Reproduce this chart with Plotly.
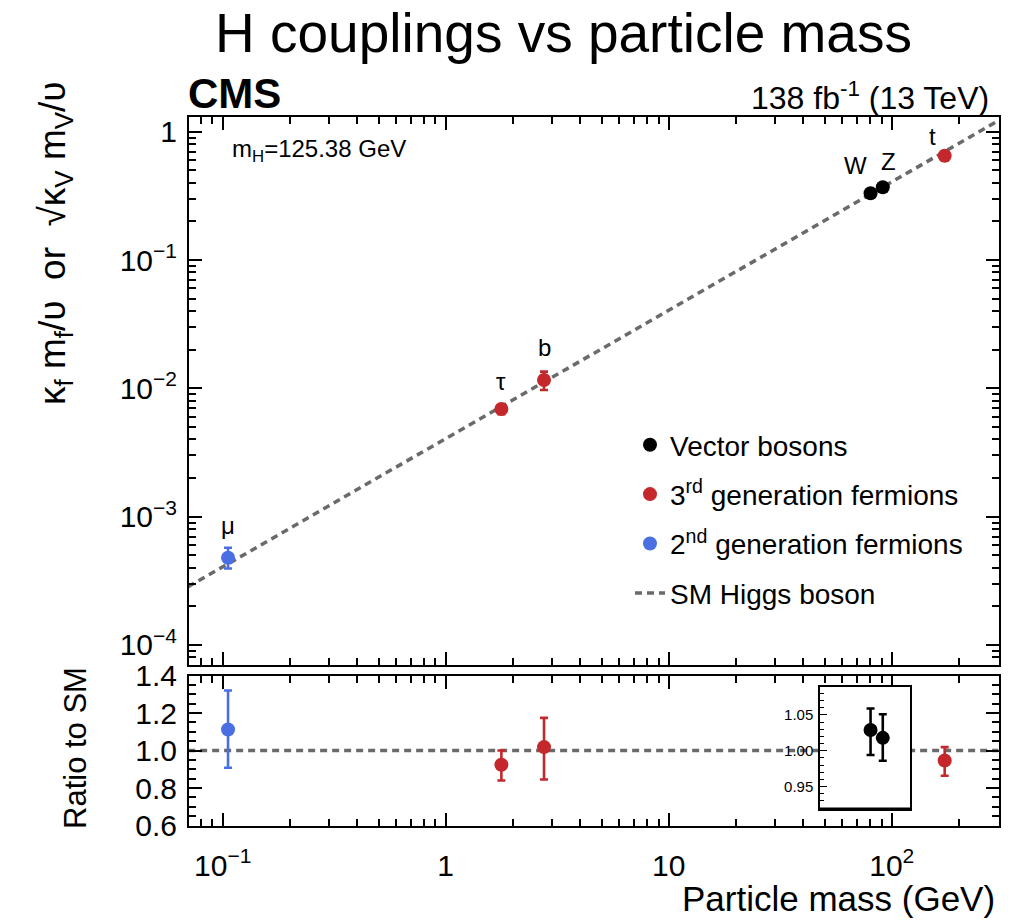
import numpy as np
import plotly.graph_objects as go

# ---------------- data ----------------
vec_names = ["W", "Z"]
vec_mass = [80.38, 91.19]
vec_coupling = [0.331, 0.369]
vec_coupling_err_up = [0.010, 0.012]
vec_coupling_err_dn = [0.011, 0.012]
vec_ratio = [1.029, 1.018]
vec_ratio_err_up = [0.030, 0.033]
vec_ratio_err_dn = [0.035, 0.032]

gen3_names = ["τ", "b", "t"]
gen3_mass = [1.777, 2.76, 172.76]
gen3_coupling = [6.90e-3, 1.16e-2, 0.650]
gen3_coupling_err_up = [0.55e-3, 0.19e-2, 0.046]
gen3_coupling_err_dn = [0.60e-3, 0.19e-2, 0.053]
gen3_ratio = [0.924, 1.018, 0.947]
gen3_ratio_err_up = [0.076, 0.156, 0.071]
gen3_ratio_err_dn = [0.084, 0.173, 0.082]

gen2_names = ["μ"]
gen2_mass = [0.1057]
gen2_coupling = [4.78e-4]
gen2_coupling_err_up = [0.95e-4]
gen2_coupling_err_dn = [0.84e-4]
gen2_ratio = [1.112]
gen2_ratio_err_up = [0.208]
gen2_ratio_err_dn = [0.204]

sm_mass = [0.07, 300.0]
sm_coupling = [2.84e-4, 1.218]
sm_ratio = [1.0, 1.0]

x_tickvals = [0.1, 1, 10, 100]
x_ticktext = ["10<sup>−1</sup>", "1", "10", "10<sup>2</sup>"]
y_tickvals = [1e-4, 1e-3, 1e-2, 1e-1, 1]
y_ticktext = ["10<sup>−4</sup>", "10<sup>−3</sup>", "10<sup>−2</sup>", "10<sup>−1</sup>", "1"]
r_tickvals = [0.6, 0.8, 1.0, 1.2, 1.4]
r_ticktext = ["0.6", "0.8", "1.0", "1.2", "1.4"]
inset_tickvals = [0.95, 1.00, 1.05]
inset_ticktext = ["0.95", "1.00", "1.05"]

# ---------------- styling ----------------
W, H = 1015, 922
FONT = "Liberation Sans, Arial, Helvetica, sans-serif"
BLACK = "#000000"
RED = "#c4282c"
BLUE = "#4a6fe3"
GREY = "#6a6a6a"
DASH = "7px,5px"


def px_x(p):
    return p / W


def px_y(p):
    return 1 - p / H


minor_log = [m * 10.0 ** e for e in range(-5, 3) for m in range(2, 10)]

fig = go.Figure()


def err(up, dn, color, w=4):
    return dict(type="data", symmetric=False, array=up, arrayminus=dn,
                color=color, thickness=2.6, width=w)


# SM line (upper)
fig.add_trace(go.Scatter(x=sm_mass, y=sm_coupling, mode="lines", xaxis="x2", yaxis="y2",
                         line=dict(color=GREY, width=3.5, dash=DASH),
                         name="SM Higgs boson", legendgroup="d", legendrank=4))
# Upper panel points
fig.add_trace(go.Scatter(x=vec_mass, y=vec_coupling, mode="markers", xaxis="x2", yaxis="y2",
                         marker=dict(color=BLACK, size=14),
                         error_y=err(vec_coupling_err_up, vec_coupling_err_dn, BLACK),
                         name="Vector bosons", legendgroup="a", legendrank=1))
fig.add_trace(go.Scatter(x=gen3_mass, y=gen3_coupling, mode="markers", xaxis="x2", yaxis="y2",
                         marker=dict(color=RED, size=14),
                         error_y=err(gen3_coupling_err_up, gen3_coupling_err_dn, RED),
                         name="3<sup>rd</sup> generation fermions", legendgroup="b", legendrank=2))
fig.add_trace(go.Scatter(x=gen2_mass, y=gen2_coupling, mode="markers", xaxis="x2", yaxis="y2",
                         marker=dict(color=BLUE, size=14),
                         error_y=err(gen2_coupling_err_up, gen2_coupling_err_dn, BLUE),
                         name="2<sup>nd</sup> generation fermions", legendgroup="c", legendrank=3))

# Lower (ratio) panel
fig.add_trace(go.Scatter(x=sm_mass, y=sm_ratio, mode="lines", xaxis="x", yaxis="y",
                         line=dict(color=GREY, width=3.5, dash=DASH), showlegend=False))
fig.add_trace(go.Scatter(x=gen3_mass, y=gen3_ratio, mode="markers", xaxis="x", yaxis="y",
                         marker=dict(color=RED, size=14),
                         error_y=err(gen3_ratio_err_up, gen3_ratio_err_dn, RED),
                         showlegend=False))
fig.add_trace(go.Scatter(x=gen2_mass, y=gen2_ratio, mode="markers", xaxis="x", yaxis="y",
                         marker=dict(color=BLUE, size=14),
                         error_y=err(gen2_ratio_err_up, gen2_ratio_err_dn, BLUE),
                         showlegend=False))
# Inset (vector bosons ratio)
fig.add_trace(go.Scatter(x=vec_mass, y=vec_ratio, mode="markers", xaxis="x3", yaxis="y3",
                         marker=dict(color=BLACK, size=14),
                         error_y=err(vec_ratio_err_up, vec_ratio_err_dn, BLACK),
                         showlegend=False))

frame = dict(showline=True, linecolor=BLACK, linewidth=2, mirror="allticks",
             ticks="inside", ticklen=13, tickwidth=1.5, tickcolor=BLACK,
             showgrid=False, zeroline=False, automargin=False)
minor_log_style = dict(ticks="inside", ticklen=7, tickwidth=1.5, tickcolor=BLACK,
                       tickvals=minor_log, showgrid=False)

x_range = [-1.151, 2.481]

fig.update_layout(
    width=W, height=H,
    margin=dict(l=0, r=0, t=0, b=0, pad=0, autoexpand=False),
    paper_bgcolor="white", plot_bgcolor="white",
    font=dict(family=FONT, color=BLACK),
    xaxis=dict(**frame, type="log", range=x_range,
               domain=[px_x(189), px_x(999)], anchor="y",
               tickmode="array", tickvals=x_tickvals, ticktext=x_ticktext,
               tickfont=dict(size=30), ticklabelstandoff=12,
               minor=minor_log_style),
    yaxis=dict(**frame, range=[0.6, 1.4],
               domain=[px_y(825.5), px_y(675.5)], anchor="x",
               tickmode="array", tickvals=r_tickvals, ticktext=r_ticktext,
               tickfont=dict(size=30), ticklabelstandoff=4,
               minor=dict(ticks="inside", ticklen=7, tickwidth=1.5, tickcolor=BLACK,
                          dtick=0.05, tick0=0.6, showgrid=False)),
    xaxis2=dict(**frame, type="log", range=x_range,
                domain=[px_x(189), px_x(999)], anchor="y2",
                tickmode="array", tickvals=x_tickvals, showticklabels=False,
                minor=minor_log_style),
    yaxis2=dict(**frame, type="log", range=[-4.156, 0.1146],
                domain=[px_y(665), px_y(117)], anchor="x2",
                tickmode="array", tickvals=y_tickvals, ticktext=y_ticktext,
                tickfont=dict(size=30), ticklabelstandoff=4,
                minor=minor_log_style),
    xaxis3=dict(type="log", range=[1.6785, 2.082],
                domain=[px_x(820), px_x(910)], anchor="y3",
                showline=True, linecolor=BLACK, linewidth=1.5, mirror=True,
                ticks="", showticklabels=False, showgrid=False, zeroline=False,
                automargin=False),
    yaxis3=dict(range=[0.9186, 1.0894],
                domain=[px_y(809), px_y(686.7)], anchor="x3",
                showline=True, linecolor=BLACK, linewidth=1.5, mirror=True,
                ticks="inside", ticklen=7, tickwidth=1.2, tickcolor=BLACK,
                tickmode="array", tickvals=inset_tickvals, ticktext=inset_ticktext,
                tickfont=dict(size=15), ticklabelstandoff=2,
                showgrid=False, zeroline=False, automargin=False,
                minor=dict(ticks="inside", ticklen=4, tickwidth=1, tickcolor=BLACK,
                           dtick=0.01, tick0=0.9, showgrid=False)),
    legend=dict(x=px_x(630), y=px_y(420), xanchor="left", yanchor="top",
                font=dict(size=28, family=FONT), bgcolor="rgba(0,0,0,0)",
                traceorder="grouped", tracegroupgap=10, itemwidth=30),
    showlegend=True,
)

# thicker bottom edge of inset
fig.add_shape(type="line", xref="x3 domain", yref="y3 domain", x0=0, x1=1, y0=0, y1=0,
              line=dict(color=BLACK, width=3))

ann = []
ann.append(dict(text="H couplings vs particle mass", x=px_x(563), y=px_y(33),
                xref="paper", yref="paper", xanchor="center", yanchor="middle",
                showarrow=False, font=dict(size=55)))
ann.append(dict(text="<b>CMS</b>", x=px_x(186), y=px_y(94), xref="paper", yref="paper",
                xanchor="left", yanchor="middle", showarrow=False, font=dict(size=42)))
ann.append(dict(text="138 fb<sup>-1</sup> (13 TeV)", x=px_x(991), y=px_y(96),
                xref="paper", yref="paper", xanchor="right", yanchor="middle",
                showarrow=False, font=dict(size=32)))
ann.append(dict(text="m<sub>H</sub>=125.38 GeV", x=px_x(230), y=px_y(150),
                xref="paper", yref="paper", xanchor="left", yanchor="middle",
                showarrow=False, font=dict(size=24)))
ann.append(dict(text="κ<sub>f</sub> m<sub>f</sub>/υ  or  √κ<sub>V</sub> m<sub>V</sub>/υ",
                x=px_x(55), y=px_y(243), xref="paper", yref="paper",
                xanchor="center", yanchor="middle", textangle=-90,
                showarrow=False, font=dict(size=37)))
ann.append(dict(text="Ratio to SM", x=px_x(75), y=px_y(748), xref="paper", yref="paper",
                xanchor="center", yanchor="middle", textangle=-90,
                showarrow=False, font=dict(size=31)))
ann.append(dict(text="Particle mass (GeV)", x=px_x(997), y=px_y(898),
                xref="paper", yref="paper", xanchor="right", yanchor="middle",
                showarrow=False, font=dict(size=35)))

# particle labels next to points (offsets in px)
label_offsets = {"μ": (0, 32), "τ": (0, 28), "b": (0, 33),
                 "W": (-15, 28), "Z": (6, 26), "t": (-12, 19)}
for names, masses, vals in [(gen2_names, gen2_mass, gen2_coupling),
                            (gen3_names, gen3_mass, gen3_coupling),
                            (vec_names, vec_mass, vec_coupling)]:
    for n, m, v in zip(names, masses, vals):
        dx, dy = label_offsets[n]
        ann.append(dict(text=n, x=np.log10(m), y=np.log10(v), xref="x2", yref="y2",
                        xshift=dx, yshift=dy, showarrow=False,
                        xanchor="center", yanchor="middle", font=dict(size=24)))

fig.update_layout(annotations=ann)
fig.write_html("out.html")
